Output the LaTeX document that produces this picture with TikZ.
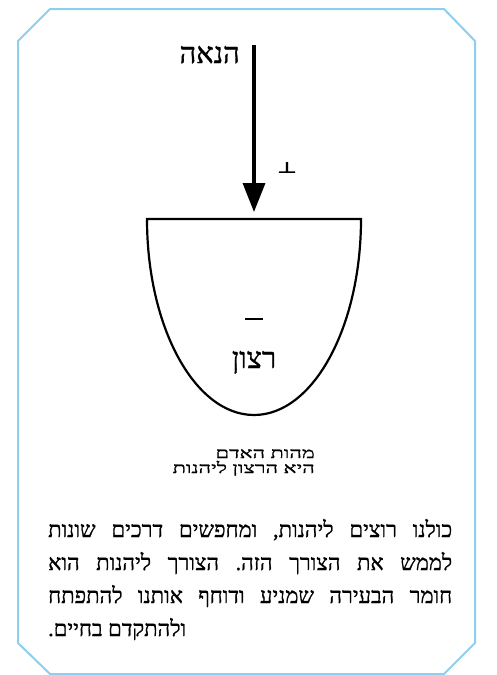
\documentclass[tikz,border=0pt]{standalone}
\usepackage{fontspec}
\usepackage{graphicx}
\TeXXeTstate=1
\setmainfont{Liberation Serif}
\newfontfamily\hebfont[Script=Hebrew,FakeBold=1]{Liberation Serif}
\newfontfamily\hebwide[Script=Hebrew,FakeStretch=1.45,FakeBold=0.8]{Liberation Serif}
\newfontfamily\symfont{DejaVu Sans Bold}
\usetikzlibrary{arrows.meta}
\definecolor{frameblue}{RGB}{142,206,238}
\newcommand\fullline[1]{\hbox to 404pt{\frenchspacing\beginR #1\endR}}
\tikzset{
  frame/.style={draw=frameblue, line width=2pt, line join=miter},
  bowl/.style={draw=black, line width=2.2pt, line join=miter},
  mainarrow/.style={draw=black, line width=3.5pt, -{Triangle[length=29pt,width=22pt]}},
  heb/.style={inner sep=0pt, font=\hebfont\fontsize{29}{32}\selectfont},
  caption/.style={inner sep=0pt, font=\hebwide\fontsize{15}{16}\selectfont},
  para/.style={inner sep=0pt, anchor=base west, font=\hebfont\fontsize{22}{33}\selectfont\frenchspacing},
}
\begin{document}
\begin{tikzpicture}[x=1pt,y=-1pt]
\useasboundingbox (0,0) rectangle (497,675);
% frame
\draw[frame] (50,9) -- (444,9) -- (475,41) -- (475,643) -- (444,674) -- (50,674) -- (18,643) -- (18,41) -- cycle;
% bowl
\coordinate (bowlleft) at (147,219);
\draw[bowl] (bowlleft) arc[start angle=180,end angle=0,x radius=107,y radius=196] -- cycle;
% arrow
\coordinate (arrowtop) at (254,45);
\coordinate (arrowtip) at (254,212);
\draw[mainarrow] (arrowtop) -- (arrowtip);
% labels
\node[heb, anchor=base east] (hanaa) at (240,63) {הנאה};
\node[inner sep=0pt, anchor=south] (perp) at (287,174) {\resizebox{20pt}{11pt}{\symfont ⊥}};
\node[inner sep=0pt] (dash) at (254,319) {\rule{18pt}{2.6pt}};
\node[heb, anchor=base] (ratzon) at (254,368) {רצון};
\node[caption, anchor=base east] (cap1) at (315,458) {\beginR מהות האדם\endR};
\node[caption, anchor=base east] (cap2) at (315,473) {\beginR היא הרצון ליהנות\endR};
% body paragraph
\node[para] (body1) at (48,537) {\fullline{כולנו רוצים ליהנות, ומחפשים דרכים שונות}};
\node[para] (body2) at (48,570) {\fullline{לממש את הצורך הזה. הצורך ליהנות הוא}};
\node[para] (body3) at (48,603) {\fullline{חומר הבעירה שמניע ודוחף אותנו להתפתח}};
\node[para] (body4) at (48,636) {\beginR ולהתקדם בחיים.\endR};
\end{tikzpicture}
\end{document}
